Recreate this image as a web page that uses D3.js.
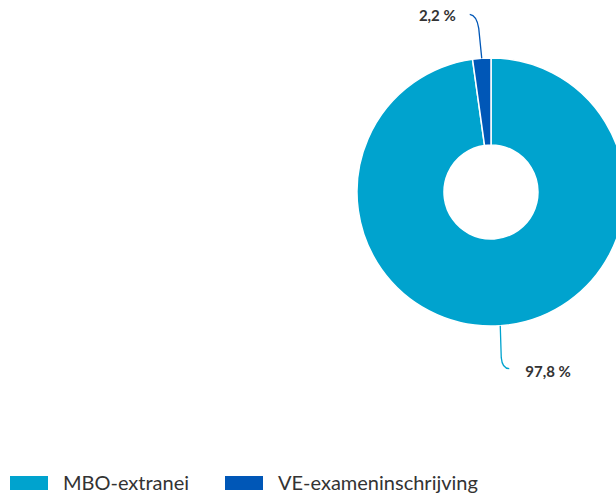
<!DOCTYPE html>
<html><head><meta charset="utf-8">
<script src="https://cdn.jsdelivr.net/npm/d3@7"></script>
<style>body{margin:0;background:#fff;overflow:hidden}</style>
</head><body><svg id="c" width="616" height="494"></svg>
<script>
const categories = ["MBO-extranei", "VE-exameninschrijving"];
const values = [97.8, 2.2];
const labels = ["97,8 %", "2,2 %"];
const colors = ["#00A3CE", "#0057B7"];

const svg = d3.select("#c");
const cx = 491, cy = 192, R = 134, r = 47;
const font = "Lato, 'Open Sans', sans-serif";
const g = svg.append("g").attr("transform", `translate(${cx},${cy})`);
const pie = d3.pie().sort(null).value(d => d)(values);
const arc = d3.arc().innerRadius(r).outerRadius(R);
g.selectAll("path.s").data(pie).join("path").attr("class","s")
  .attr("d", arc).attr("fill", (d,i)=>colors[i])
  .attr("stroke","#fff").attr("stroke-width",1.5);

const ptOn = (a, rad) => [Math.sin(a)*rad, -Math.cos(a)*rad];
// VE label (top)
{
  const d = pie[1]; const a = (d.startAngle+d.endAngle)/2;
  const p0 = ptOn(a, R);
  const path = d3.path();
  path.moveTo(p0[0], p0[1]);
  path.lineTo(p0[0]-3, p0[1]-30);
  path.quadraticCurveTo(p0[0]-5, p0[1]-43, p0[0]-12, p0[1]-44);
  g.append("path").attr("d", path.toString()).attr("fill","none")
    .attr("stroke", colors[1]).attr("stroke-width",1.3);
  g.append("text").attr("x", p0[0]-26).attr("y", p0[1]-37)
    .attr("text-anchor","end").attr("font-family",font)
    .attr("font-weight","bold").attr("font-size",15).attr("fill","#333").text(labels[1]);
}
// MBO label (bottom)
{
  const d = pie[0]; const a = (d.startAngle+d.endAngle)/2;
  const p0 = ptOn(a, R);
  const path = d3.path();
  path.moveTo(p0[0], p0[1]);
  path.lineTo(p0[0]+1, p0[1]+32);
  path.quadraticCurveTo(p0[0]+2, p0[1]+43, p0[0]+9, p0[1]+43);
  g.append("path").attr("d", path.toString()).attr("fill","none")
    .attr("stroke", colors[0]).attr("stroke-width",1.3);
  g.append("text").attr("x", p0[0]+25).attr("y", p0[1]+51)
    .attr("text-anchor","start").attr("font-family",font)
    .attr("font-weight","bold").attr("font-size",15).attr("fill","#333").text(labels[0]);
}

// legend
const legX = [10, 225];
const lg = svg.selectAll("g.leg").data(categories).join("g").attr("class","leg")
  .attr("transform",(d,i)=>`translate(${legX[i]},476)`);
lg.append("rect").attr("width",38).attr("height",14).attr("fill",(d,i)=>colors[i]);
lg.append("text").attr("x",53).attr("y",14).attr("font-family",font)
  .attr("font-size",20).attr("fill","#333").text(d=>d);
</script></body></html>
